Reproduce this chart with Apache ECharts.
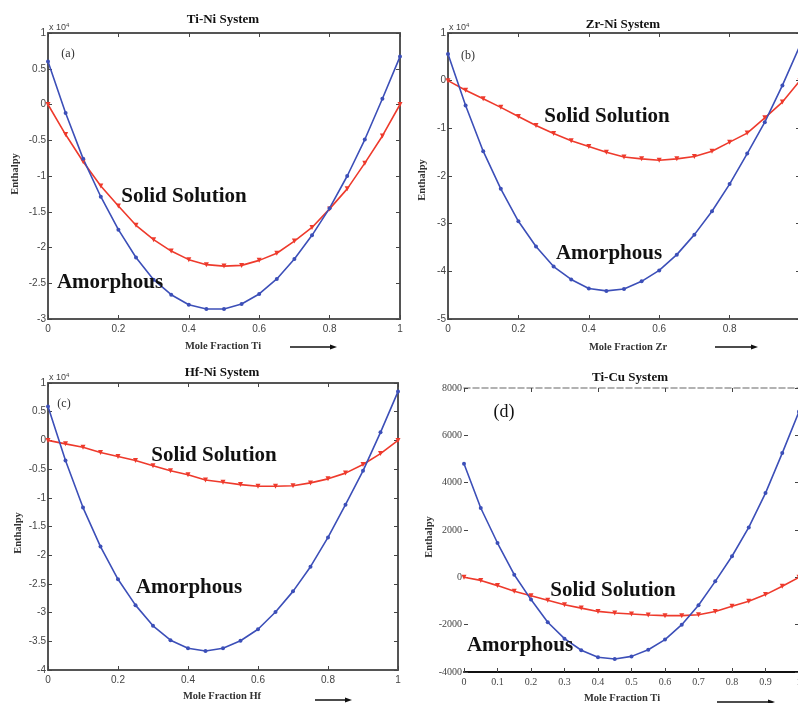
<!DOCTYPE html>
<html><head><meta charset="utf-8">
<script src="https://cdn.jsdelivr.net/npm/echarts@6/dist/echarts.min.js"></script>
<style>html,body{margin:0;padding:0;background:#fff}#c{width:798px;height:703px}</style>
</head><body><div id="c"></div>
<script>
// ---- data ----
const xFrac = [0,0.05,0.1,0.15,0.2,0.25,0.3,0.35,0.4,0.45,0.5,0.55,0.6,0.65,0.7,0.75,0.8,0.85,0.9,0.95,1];
// (a) Ti-Ni, units x10^4
const tiNiAmorphous = [0.6,-0.12,-0.76,-1.29,-1.75,-2.14,-2.45,-2.66,-2.80,-2.86,-2.86,-2.79,-2.65,-2.44,-2.16,-1.83,-1.45,-1.00,-0.49,0.08,0.67];
const tiNiSolid     = [0,-0.42,-0.80,-1.14,-1.42,-1.69,-1.89,-2.05,-2.17,-2.24,-2.26,-2.25,-2.18,-2.08,-1.91,-1.72,-1.46,-1.18,-0.82,-0.44,0];
// (b) Zr-Ni, units x10^4
const zrNiAmorphous = [0.56,-0.52,-1.48,-2.27,-2.95,-3.48,-3.90,-4.17,-4.36,-4.41,-4.37,-4.21,-3.98,-3.65,-3.23,-2.74,-2.17,-1.53,-0.87,-0.10,0.74];
const zrNiSolid     = [0,-0.20,-0.38,-0.56,-0.75,-0.94,-1.11,-1.26,-1.38,-1.50,-1.60,-1.64,-1.67,-1.64,-1.59,-1.48,-1.29,-1.10,-0.78,-0.45,0];
// (c) Hf-Ni, units x10^4
const hfNiAmorphous = [0.59,-0.35,-1.17,-1.85,-2.42,-2.87,-3.23,-3.48,-3.62,-3.67,-3.62,-3.49,-3.29,-2.99,-2.63,-2.20,-1.69,-1.12,-0.53,0.14,0.85];
const hfNiSolid     = [0,-0.06,-0.12,-0.21,-0.28,-0.35,-0.44,-0.53,-0.60,-0.69,-0.73,-0.77,-0.80,-0.80,-0.79,-0.74,-0.67,-0.57,-0.42,-0.23,0];
// (d) Ti-Cu
const tiCuAmorphous = [4800,2930,1450,110,-940,-1900,-2590,-3080,-3380,-3450,-3340,-3060,-2630,-2000,-1180,-170,890,2110,3560,5250,7000];
const tiCuSolid     = [0,-130,-350,-590,-775,-970,-1155,-1300,-1440,-1510,-1550,-1590,-1620,-1620,-1580,-1440,-1225,-1010,-730,-380,0];

const panelTitles = ['Ti-Ni System','Zr-Ni System','Hf-Ni System','Ti-Cu System'];
const panelTags = ['(a)','(b)','(c)','(d)'];
const xNames = ['Mole Fraction Ti','Mole Fraction Zr','Mole Fraction Hf','Mole Fraction Ti'];
const yName = 'Enthalpy';
const yRanges = [[-3,1,0.5],[-5,1,1],[-4,1,0.5],[-4000,8000,2000]];
const xIntervals = [0.2,0.2,0.2,0.1];

// ---- chart ----
const BLUE = '#3c4fb8', RED = '#ee3a2c';
const sans = 'Liberation Sans', serif = 'Liberation Serif';
const grids = [
  {left:48, top:33, width:352, height:286, outerBoundsMode:'none', containLabel:false},
  {left:448, top:33, width:352, height:286, outerBoundsMode:'none', containLabel:false},
  {left:48, top:383, width:350, height:287, outerBoundsMode:'none', containLabel:false},
  {left:464, top:388, width:335, height:284, outerBoundsMode:'none', containLabel:false}
];
const xAxes = [], yAxes = [], series = [];
const plain = v => String(Math.round(v*100)/100);
grids.forEach((g,i)=>{
  const isD = i===3;
  const lblFont = isD ? serif : sans;
  xAxes.push({type:'value', gridIndex:i, min:0, max:1, interval:xIntervals[i], position:'bottom',
    axisLine:{show:true, onZero:false, lineStyle:{color:isD?'#111':'#555', width:2}},
    axisTick:{show:true, inside:true, length:4, lineStyle:{color:'#444'}},
    axisLabel:{color:'#444', fontSize:10, fontFamily:lblFont, margin:5, showMinLabel:true, showMaxLabel:true, formatter:plain},
    splitLine:{show:false}});
  xAxes.push({type:'value', gridIndex:i, min:0, max:1, interval:xIntervals[i]*(isD?2:1), position:'top',
    axisLine:{show:true, onZero:false, lineStyle:{color:isD?'#999':'#555', width:isD?1.5:2, type:isD?'dashed':'solid'}},
    axisTick:{show:true, inside:true, length:4, lineStyle:{color:'#444'}},
    axisLabel:{show:false}, splitLine:{show:false}});
  const r = yRanges[i];
  yAxes.push({type:'value', gridIndex:i, min:r[0], max:r[1], interval:r[2], position:'left',
    axisLine:{show:!isD, onZero:false, lineStyle:{color:'#555', width:2}},
    axisTick:{show:true, inside:true, length:4, lineStyle:{color:'#444'}},
    axisLabel:{color:'#444', fontSize:10, fontFamily:lblFont, margin:2, showMinLabel:true, showMaxLabel:true, formatter:plain},
    splitLine:{show:false}});
  yAxes.push({type:'value', gridIndex:i, min:r[0], max:r[1], interval:r[2], position:'right',
    axisLine:{show:!isD, onZero:false, lineStyle:{color:'#555', width:2}},
    axisTick:{show:true, inside:true, length:4, lineStyle:{color:'#444'}},
    axisLabel:{show:false}, splitLine:{show:false}});
});
const amorph = [tiNiAmorphous, zrNiAmorphous, hfNiAmorphous, tiCuAmorphous];
const solid = [tiNiSolid, zrNiSolid, hfNiSolid, tiCuSolid];
for (let i=0;i<4;i++){
  series.push({type:'line', name:'Solid Solution', xAxisIndex:2*i, yAxisIndex:2*i,
    data:xFrac.map((x,k)=>[x, solid[i][k]]), clip:true,
    lineStyle:{color:RED, width:1.6}, itemStyle:{color:RED},
    symbol:'triangle', symbolRotate:180, symbolSize:5, showSymbol:true});
  series.push({type:'line', name:'Amorphous', xAxisIndex:2*i, yAxisIndex:2*i,
    data:xFrac.map((x,k)=>[x, amorph[i][k]]), clip:true,
    lineStyle:{color:BLUE, width:1.6}, itemStyle:{color:BLUE},
    symbol:'circle', symbolSize:4, showSymbol:true});
}

// annotations
const T = (text,x,y,font,opts={}) => Object.assign({type:'text', z:100, x, y,
  style:Object.assign({text, font, fill:'#111', textAlign:'center', textVerticalAlign:'middle'}, opts.style||{})},
  opts.rotation!==undefined?{rotation:opts.rotation}:{});
const arrow = (x1,x2,y) => ({type:'group', z:100, children:[
  {type:'line', shape:{x1, y1:y, x2:x2-5, y2:y}, style:{stroke:'#111', lineWidth:1.5}},
  {type:'polygon', shape:{points:[[x2,y],[x2-7,y-2.5],[x2-7,y+2.5]]}, style:{fill:'#111'}}
]});
const sup = (x,y) => ({type:'text', z:100, x, y, style:{text:'x 10{s|4}', font:'9px '+sans, fill:'#444', textVerticalAlign:'middle', rich:{s:{fontSize:6, verticalAlign:'top', padding:[0,0,6,0]}}}});
const graphic = [
  T(panelTitles[0],223,20,'bold 13px '+serif),
  T(panelTitles[1],623,25,'bold 13px '+serif),
  T(panelTitles[2],222,373,'bold 13px '+serif),
  T(panelTitles[3],630,378,'bold 13px '+serif),
  T(panelTags[0],68,54,'12px '+serif,{style:{fill:'#333'}}),
  T(panelTags[1],468,56,'12px '+serif,{style:{fill:'#333'}}),
  T(panelTags[2],64,404,'12px '+serif,{style:{fill:'#333'}}),
  T(panelTags[3],504,412,'18px '+serif,{style:{fill:'#111'}}),
  T(xNames[0],223,346,'bold 10.5px '+serif,{style:{fill:'#333'}}),
  T(xNames[1],628,347,'bold 10.5px '+serif,{style:{fill:'#333'}}),
  T(xNames[2],222,696,'bold 10.5px '+serif,{style:{fill:'#333'}}),
  T(xNames[3],622,698,'bold 10.5px '+serif,{style:{fill:'#333'}}),
  arrow(290,337,347), arrow(715,758,347), arrow(315,352,700), arrow(717,775,702),
  T(yName,15,174,'bold 10.5px '+serif,{rotation:Math.PI/2,style:{fill:'#333'}}),
  T(yName,422,180,'bold 10.5px '+serif,{rotation:Math.PI/2,style:{fill:'#333'}}),
  T(yName,18,533,'bold 10.5px '+serif,{rotation:Math.PI/2,style:{fill:'#333'}}),
  T(yName,429,537,'bold 10.5px '+serif,{rotation:Math.PI/2,style:{fill:'#333'}}),
  sup(49,28), sup(449,28), sup(49,378),
  T('Solid Solution',184,197,'bold 21px '+serif),
  T('Amorphous',110,283,'bold 21px '+serif),
  T('Solid Solution',607,117,'bold 21px '+serif),
  T('Amorphous',609,254,'bold 21px '+serif),
  T('Solid Solution',214,456,'bold 21px '+serif),
  T('Amorphous',189,588,'bold 21px '+serif),
  T('Solid Solution',613,591,'bold 21px '+serif),
  T('Amorphous',520,646,'bold 21px '+serif)
];

const chart = echarts.init(document.getElementById('c'), null, {renderer:'canvas'});
chart.setOption({animation:false, backgroundColor:'#fff', grid:grids, xAxis:xAxes, yAxis:yAxes, series, graphic});
</script></body></html>
